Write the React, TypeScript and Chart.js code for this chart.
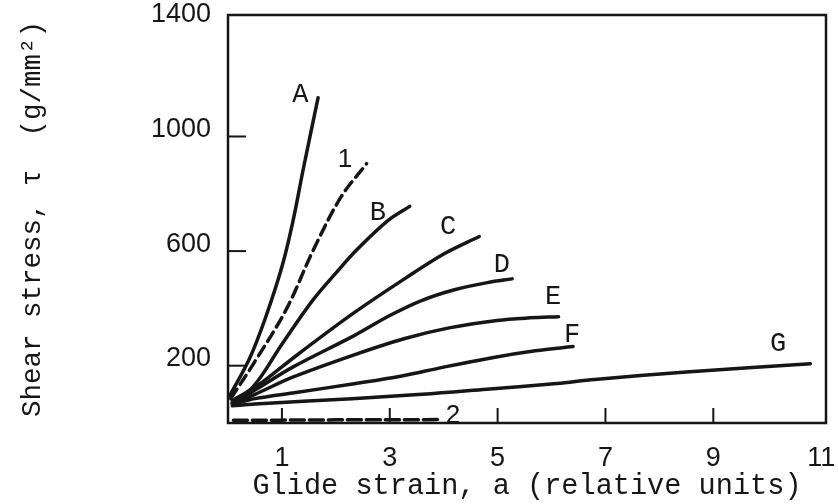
import React, { useEffect, useRef } from "react";
import { Chart, registerables } from "chart.js";

Chart.register(...registerables);

// Axis ticks
const xTickValues = [1, 3, 5, 7, 9, 11];
const yTickValues = [200, 600, 1000, 1400];

// Curves (x = glide strain, y = shear stress)
const curveAx = [0.03, 0.4, 0.7, 1.0, 1.2, 1.4, 1.67];
const curveAy = [95, 225, 370, 545, 700, 890, 1135];

const curve1x = [0.05, 0.5, 1.09, 1.58, 2.1, 2.57];
const curve1y = [85, 215, 400, 603, 790, 905];

const curveBx = [0.08, 0.46, 1.0, 1.57, 2.04, 2.38, 2.97, 3.37];
const curveBy = [78, 125, 275, 428, 532, 603, 707, 756];

const curveCx = [0.08, 0.55, 1.3, 2.34, 3.28, 4.0, 4.66];
const curveCy = [72, 130, 240, 385, 504, 590, 651];

const curveDx = [0.08, 0.5, 1.2, 2.34, 3.0, 3.6, 4.2, 4.81, 5.27];
const curveDy = [70, 115, 195, 305, 375, 428, 465, 490, 503];

const curveEx = [0.08, 0.5, 1.2, 2.34, 3.28, 4.1, 4.99, 5.6, 6.13];
const curveEy = [68, 100, 160, 238, 295, 332, 358, 367, 371];

const curveFx = [0.08, 0.5, 1.2, 2.34, 3.2, 4.0, 4.9, 5.7, 6.4];
const curveFy = [65, 85, 105, 137, 163, 195, 228, 252, 267];

const curveGx = [0.08, 0.5, 2.3, 3.6, 4.8, 6.1, 6.8, 8.5, 10.8];
const curveGy = [60, 66, 85, 100, 118, 138, 152, 178, 207];

const curve2x = [0.1, 1.0, 2.0, 3.0, 3.9];
const curve2y = [10, 10, 11, 11, 12];

// Curve labels
const labelTexts = ["A", "1", "B", "C", "D", "E", "F", "G", "2"];
const labelXs = [1.34, 2.17, 2.78, 4.08, 5.08, 6.03, 6.38, 10.2, 4.17];
const labelYs = [1145, 918, 732, 683, 551, 439, 306, 278, 26];
const labelIsNumber = [false, true, false, false, false, false, false, false, true];

const INK = "#161616";

function pts(xs: number[], ys: number[]) {
  return xs.map((x, i) => ({ x, y: ys[i] }));
}

function series(xs: number[], ys: number[], dashed: boolean) {
  return {
    data: pts(xs, ys),
    borderColor: INK,
    borderWidth: 3.5,
    borderDash: dashed ? [11, 6] : [],
    pointRadius: 0,
    fill: false,
    tension: 0.35,
    borderCapStyle: "round" as const,
  };
}

const framePlugin = {
  id: "framePlugin",
  afterDatasetsDraw(chart: any) {
    const { ctx, chartArea, scales } = chart;
    const { left, right, top, bottom } = chartArea;
    ctx.save();
    ctx.strokeStyle = INK;
    ctx.lineWidth = 2.5;
    ctx.strokeRect(left, top, right - left, bottom - top);
    // inner tick marks
    ctx.lineWidth = 2;
    yTickValues.forEach((v) => {
      if (v >= 1400) return;
      const py = scales.y.getPixelForValue(v);
      ctx.beginPath();
      ctx.moveTo(left, py);
      ctx.lineTo(left + 18, py);
      ctx.stroke();
    });
    xTickValues.forEach((v) => {
      if (v >= 11) return;
      const px = scales.x.getPixelForValue(v);
      ctx.beginPath();
      ctx.moveTo(px, bottom);
      ctx.lineTo(px, bottom - 15);
      ctx.stroke();
    });
    // curve labels
    ctx.fillStyle = INK;
    ctx.textAlign = "center";
    ctx.textBaseline = "middle";
    labelTexts.forEach((t, i) => {
      ctx.font = labelIsNumber[i]
        ? "26px 'Liberation Sans'"
        : "27px 'Liberation Mono'";
      ctx.fillText(
        t,
        scales.x.getPixelForValue(labelXs[i]),
        scales.y.getPixelForValue(labelYs[i])
      );
    });
    ctx.restore();
  },
};

export default function App() {
  const canvasRef = useRef<HTMLCanvasElement | null>(null);

  useEffect(() => {
    if (!canvasRef.current) return;
    const chart = new Chart(canvasRef.current, {
      type: "line",
      data: {
        datasets: [
          series(curveAx, curveAy, false),
          series(curve1x, curve1y, true),
          series(curveBx, curveBy, false),
          series(curveCx, curveCy, false),
          series(curveDx, curveDy, false),
          series(curveEx, curveEy, false),
          series(curveFx, curveFy, false),
          series(curveGx, curveGy, false),
          { ...series(curve2x, curve2y, true), borderDash: [14, 5], tension: 0 },
        ],
      },
      options: {
        animation: false,
        responsive: false,
        devicePixelRatio: 1,
        layout: { padding: { top: 15, right: 12, left: 0, bottom: 0 } },
        plugins: {
          legend: { display: false },
          tooltip: { enabled: false },
        },
        scales: {
          x: {
            type: "linear",
            min: 0,
            max: 11.09,
            afterBuildTicks: (s: any) => {
              s.ticks = xTickValues.map((v) => ({ value: v }));
            },
            afterFit: (s: any) => {
              s.height = 81;
              s.paddingLeft = 0;
              s.paddingRight = 0;
            },
            grid: { display: false, drawTicks: false },
            border: { display: false },
            ticks: {
              color: INK,
              font: { family: "'Liberation Sans'", size: 27 },
              padding: 19,
              maxRotation: 0,
              autoSkip: false,
              callback: (v: any) => String(v),
            },
            title: {
              display: true,
              text: "Glide strain, a (relative units)",
              color: INK,
              font: { family: "'Liberation Mono'", size: 28.6 },
              padding: { top: 0, bottom: 0 },
            },
          },
          y: {
            type: "linear",
            min: 0,
            max: 1424,
            afterBuildTicks: (s: any) => {
              s.ticks = yTickValues.map((v) => ({ value: v }));
            },
            afterFit: (s: any) => {
              s.width = 228;
              s.paddingTop = 0;
              s.paddingBottom = 0;
            },
            grid: { display: false, drawTicks: false },
            border: { display: false },
            ticks: {
              color: INK,
              font: { family: "'Liberation Sans'", size: 27 },
              padding: 17,
              labelOffset: -7,
              autoSkip: false,
              callback: (v: any) => String(v),
            },
            title: {
              display: true,
              text: "Shear stress, τ  (g/mm²)",
              color: INK,
              font: { family: "'Liberation Mono'", size: 27.5 },
              padding: { top: 16, bottom: 0 },
            },
          },
        },
      },
      plugins: [framePlugin],
    } as any);
    return () => chart.destroy();
  }, []);

  return (
    <div
      style={{
        position: "fixed",
        left: 0,
        top: 0,
        width: 838,
        height: 504,
        background: "#fff",
      }}
    >
      <canvas ref={canvasRef} width={838} height={504} />
    </div>
  );
}
